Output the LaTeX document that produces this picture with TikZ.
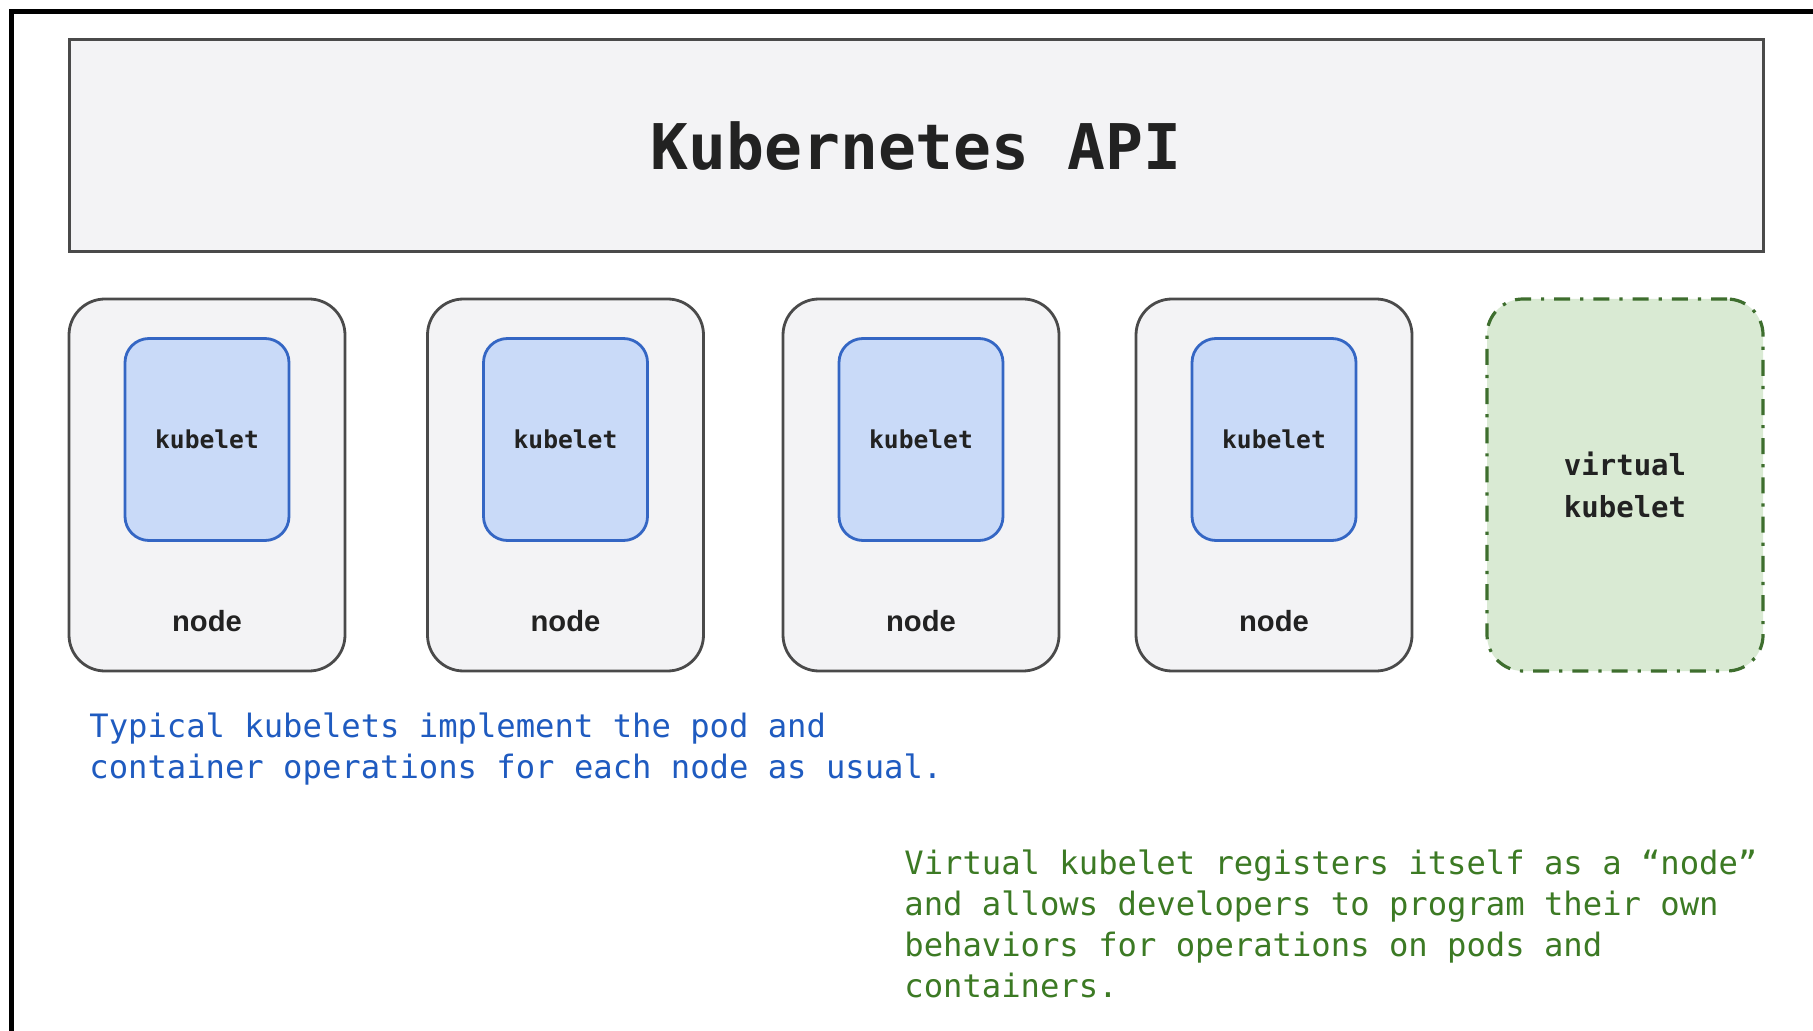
\documentclass[tikz,border=0pt]{standalone}
\usepackage{fontspec}
\setmainfont{DejaVu Sans Mono}
\newfontfamily\monof{DejaVu Sans Mono}
\newfontfamily\sansbold{Liberation Sans}
\definecolor{boxgray}{HTML}{F3F3F5}
\definecolor{boxline}{HTML}{4A4A4A}
\definecolor{kubfill}{HTML}{C9DAF8}
\definecolor{kubline}{HTML}{3466C4}
\definecolor{virtfill}{HTML}{D9EAD3}
\definecolor{virtline}{HTML}{3E6E2E}
\definecolor{bluetext}{HTML}{1F5BC0}
\definecolor{greentext}{HTML}{3C7A24}
\definecolor{darktext}{HTML}{222222}
\tikzset{
  apibox/.style={draw=boxline, fill=boxgray, line width=1.5pt, minimum width=847pt, minimum height=106pt, inner sep=0pt,
    font=\monof\bfseries\fontsize{31.5}{36}\selectfont, text=darktext},
  hostbox/.style={draw=boxline, fill=boxgray, line width=1.4pt, rounded corners=18pt, minimum width=138pt, minimum height=186pt, inner sep=0pt},
  kubbox/.style={draw=kubline, fill=kubfill, line width=1.4pt, rounded corners=12pt, minimum width=82pt, minimum height=101pt, inner sep=0pt,
    font=\monof\bfseries\fontsize{12.3}{15}\selectfont, text=darktext},
  virtbox/.style={draw=virtline, fill=virtfill, line width=1.6pt, rounded corners=18pt, minimum width=138pt, minimum height=186pt, inner sep=0pt,
    dash pattern=on 8pt off 5pt on 1.6pt off 5pt,
    font=\monof\bfseries\fontsize{14.5}{21}\selectfont, text=darktext, align=center},
  hostlabel/.style={font=\sansbold\bfseries\fontsize{14.6}{17}\selectfont, text=darktext, inner sep=0pt},
  caption/.style={font=\monof\fontsize{16.1}{20.5}\selectfont, align=left, inner sep=0pt, anchor=base west},
}
\begin{document}
\begin{tikzpicture}[x=0.5pt, y=-0.5pt]
\useasboundingbox (0,0) rectangle (1813,1031);
\fill[white] (0,0) rectangle (1813,1031);
% frame
\coordinate (fbl) at (11.5,1031);
\coordinate (ftl) at (11.5,11.5);
\coordinate (ftr) at (1813,11.5);
\draw[line width=2.3pt, black] (fbl) -- (ftl) -- (ftr);
% API
\node[apibox] (api) at (916,146) {Kubernetes API};
% hosts
\foreach \i/\x in {1/207, 2/565.5, 3/921, 4/1274} {
  \node[hostbox] (host\i) at (\x,485) {};
  \node[kubbox] (kub\i) at (\x,439.5) {kubelet};
  \node[hostlabel] (lab\i) at (\x,621) {node};
}
\node[virtbox] (virt) at (1625,485) {virtual\\kubelet};
% captions (anchor = baseline of last line)
\node[caption, text=bluetext] (cap1) at (89,778) {Typical kubelets implement the pod and\\container operations for each node as usual.};
\node[caption, text=greentext] (cap2) at (904,997) {Virtual kubelet registers itself as a “node”\\and allows developers to program their own\\behaviors for operations on pods and\\containers.};
\end{tikzpicture}
\end{document}
